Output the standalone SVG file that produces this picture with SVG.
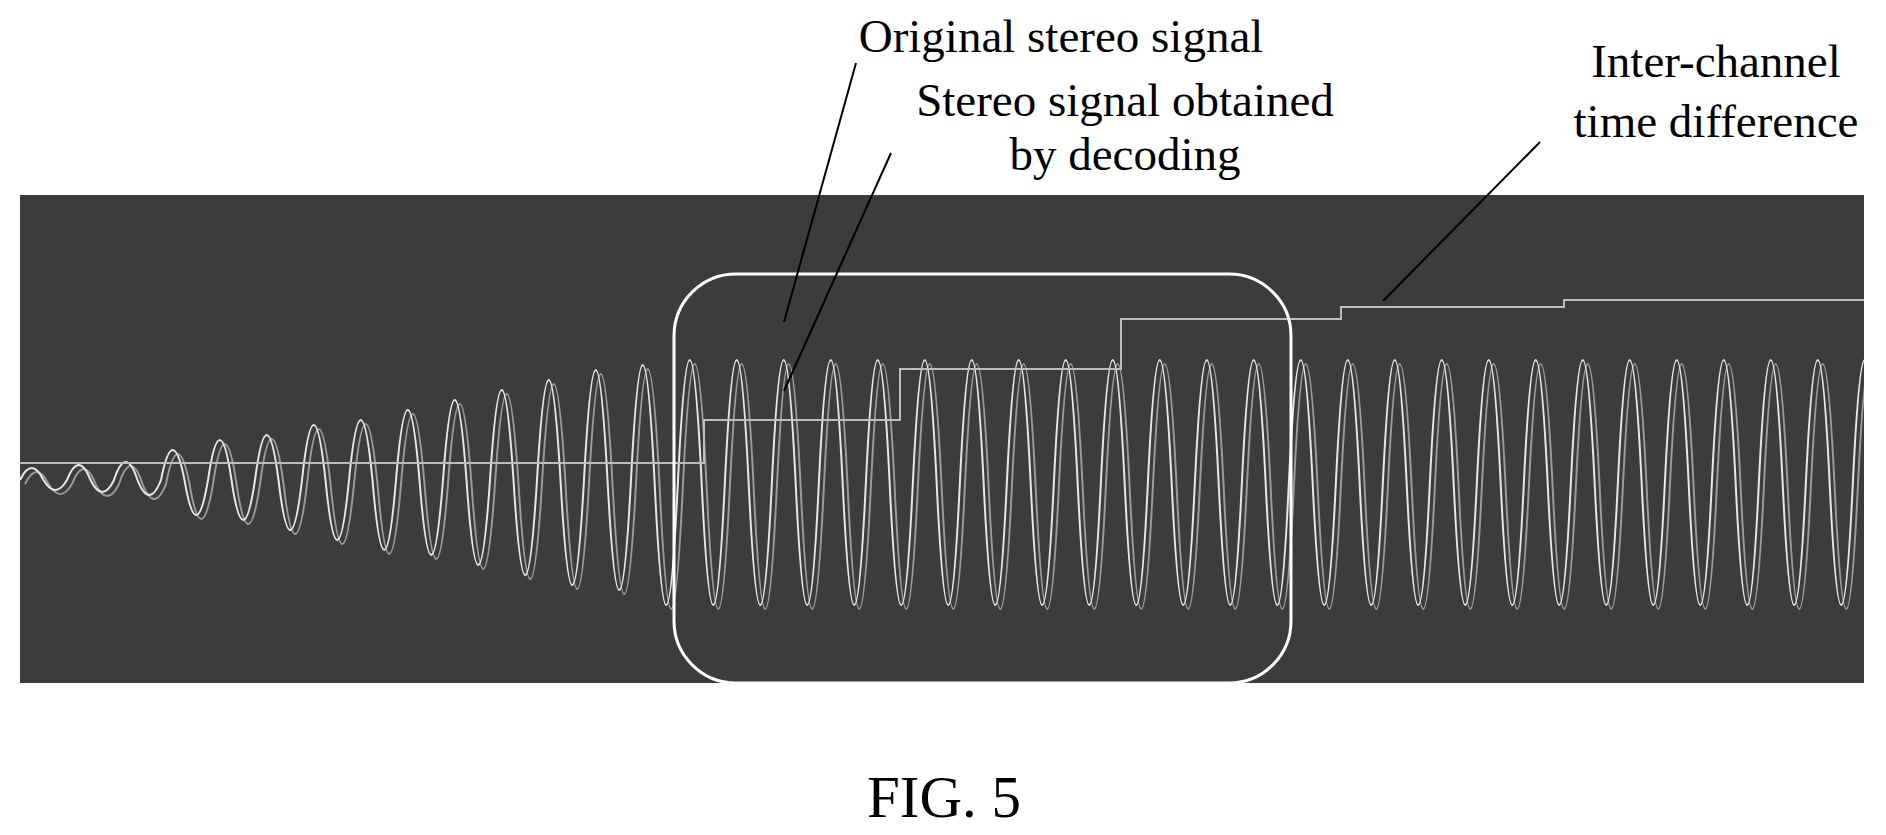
<svg xmlns="http://www.w3.org/2000/svg" xmlns:xlink="http://www.w3.org/1999/xlink" width="1886" height="835" viewBox="0 0 1886 835">
<style>
text{font-family:"Liberation Serif","Times New Roman",serif;fill:#000;text-anchor:middle}
.lbl{font-size:47px}
.lead{stroke:#000;stroke-width:2;fill:none}
.wave{fill:none;stroke-width:2;stroke-linejoin:round}
</style>
<defs>
<clipPath id="pc"><rect x="20" y="195" width="1844" height="488"/></clipPath>
<path id="sig" d="M20 480 q11.75 -24 23.5 0 q11.75 20 23.5 0 q11.75 -30 23.5 0 q11.75 24 23.5 0 q11.75 -36 23.5 0 q11.75 30 23.5 0 q11.75 -60 23.5 0 q11.75 70 23.5 0 q11.75 -80 23.5 0 q11.75 80 23.5 0 q11.75 -90 23.5 0 q11.75 100 23.5 0 q11.75 -110 23.5 0 q11.75 120 23.5 0 q11.75 -120 23.5 0 q11.75 140 23.5 0 q11.75 -140 23.5 0 q11.75 150 23.5 0 q11.75 -160 23.5 0 q11.75 170 23.5 0 q11.75 -180 23.5 0 q11.75 190 23.5 0 q11.75 -200 23.5 0 q11.75 210 23.5 0 q11.75 -220 23.5 0 q11.75 220 23.5 0 q11.75 -230 23.5 0 q11.75 250 23.5 0 q11.75 -240 23.5 0 q11.75 250 23.5 0 q11.75 -240 23.5 0 q11.75 250 23.5 0 q11.75 -240 23.5 0 q11.75 250 23.5 0 q11.75 -240 23.5 0 q11.75 250 23.5 0 q11.75 -240 23.5 0 q11.75 250 23.5 0 q11.75 -240 23.5 0 q11.75 250 23.5 0 q11.75 -240 23.5 0 q11.75 250 23.5 0 q11.75 -240 23.5 0 q11.75 250 23.5 0 q11.75 -240 23.5 0 q11.75 250 23.5 0 q11.75 -240 23.5 0 q11.75 250 23.5 0 q11.75 -240 23.5 0 q11.75 250 23.5 0 q11.75 -240 23.5 0 q11.75 250 23.5 0 q11.75 -240 23.5 0 q11.75 250 23.5 0 q11.75 -240 23.5 0 q11.75 250 23.5 0 q11.75 -240 23.5 0 q11.75 250 23.5 0 q11.75 -240 23.5 0 q11.75 250 23.5 0 q11.75 -240 23.5 0 q11.75 250 23.5 0 q11.75 -240 23.5 0 q11.75 250 23.5 0 q11.75 -240 23.5 0 q11.75 250 23.5 0 q11.75 -240 23.5 0 q11.75 250 23.5 0 q11.75 -240 23.5 0 q11.75 250 23.5 0 q11.75 -240 23.5 0 q11.75 250 23.5 0 q11.75 -240 23.5 0 q11.75 250 23.5 0 q11.75 -240 23.5 0 q11.75 250 23.5 0 q11.75 -240 23.5 0 q11.75 250 23.5 0 q11.75 -240 23.5 0 q11.75 250 23.5 0"/>
</defs>
<rect width="1886" height="835" fill="#fff"/>
<g id="plot">
<rect x="20" y="195" width="1844" height="488" fill="#3c3c3c"/>
<g clip-path="url(#pc)">
<use xlink:href="#sig" class="wave" stroke="#9a9a9a" transform="translate(5,4)"/>
<use xlink:href="#sig" class="wave" stroke="#e8e8e8"/>
</g>
<path d="M20 463 H704 V420 H900 V369 H1121 V319 H1341 V307 H1564 V300 H1864" fill="none" stroke="#bdbdbd" stroke-width="2"/>
<rect x="674" y="274" width="617" height="409" rx="62" fill="none" stroke="#fff" stroke-width="3"/>
</g>
<g id="labels">
<text class="lbl" x="1061" y="52">Original stereo signal</text>
<text class="lbl" x="1125" y="116">Stereo signal obtained</text>
<text class="lbl" x="1125" y="170">by decoding</text>
<text class="lbl" x="1716" y="77">Inter-channel</text>
<text class="lbl" x="1716" y="137">time difference</text>
<text x="944" y="817" style="font-size:59px">FIG. 5</text>
</g>
<g id="connectors">
<line class="lead" x1="856" y1="63" x2="784" y2="322"/>
<line class="lead" x1="891" y1="153" x2="784" y2="391"/>
<line class="lead" x1="1540" y1="142" x2="1383" y2="301"/>
</g>
</svg>
